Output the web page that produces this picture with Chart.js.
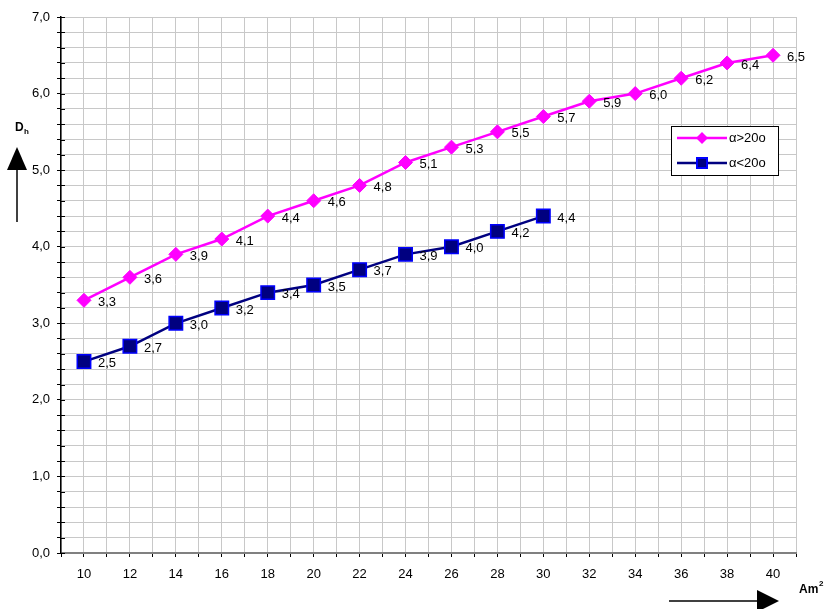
<!DOCTYPE html>
<html>
<head>
<meta charset="utf-8">
<script src="https://cdn.jsdelivr.net/npm/chart.js@4"></script>
<style>
  html, body { margin: 0; padding: 0; background: #fff; }
  #wrap { width: 829px; height: 609px; position: relative; }
</style>
</head>
<body>
<div id="wrap"><canvas id="chart"></canvas></div>
<script>
  const areaX = [10, 12, 14, 16, 18, 20, 22, 24, 26, 28, 30, 32, 34, 36, 38, 40];
  const dhAbove20 = [3.3, 3.6, 3.9, 4.1, 4.4, 4.6, 4.8, 5.1, 5.3, 5.5, 5.7, 5.9, 6.0, 6.2, 6.4, 6.5];
  const dhBelow20 = [2.5, 2.7, 3.0, 3.2, 3.4, 3.5, 3.7, 3.9, 4.0, 4.2, 4.4];
  const seriesNames = ['α>20o', 'α<20o'];
  const xTickLabels = [10, 12, 14, 16, 18, 20, 22, 24, 26, 28, 30, 32, 34, 36, 38, 40];
  const yTickLabels = [0, 1, 2, 3, 4, 5, 6, 7];

  const PINK = '#FF00FF';
  const NAVY = '#000080';
  const BLUE = '#0000FF';
  const FONT = 'Liberation Sans, Arial, sans-serif';

  function toPoints(ys) {
    return ys.map((y, i) => ({ x: areaX[i], y }));
  }

  function fmt(v) {
    return v.toFixed(1).replace('.', ',');
  }

  // value labels right of each point
  const valueLabels = {
    id: 'valueLabels',
    afterDatasetsDraw(chart) {
      const ctx = chart.ctx;
      ctx.save();
      ctx.font = '13px ' + FONT;
      ctx.fillStyle = '#000';
      ctx.textAlign = 'left';
      ctx.textBaseline = 'middle';
      chart.data.datasets.forEach((ds, di) => {
        chart.getDatasetMeta(di).data.forEach((pt, i) => {
          ctx.fillText(fmt(ds.data[i].y), pt.x + 14, pt.y + 2);
        });
      });
      ctx.restore();
    }
  };

  // legend box, axis titles, arrows, inner tick halves
  const decorations = {
    id: 'decorations',
    afterDraw(chart) {
      const ctx = chart.ctx;
      const area = chart.chartArea;
      const yScale = chart.scales.y;
      ctx.save();

      // inner halves of y ticks
      ctx.strokeStyle = '#000';
      ctx.lineWidth = 1;
      yScale.ticks.forEach(t => {
        const py = Math.round(yScale.getPixelForValue(t.value)) + 0.5;
        ctx.beginPath();
        ctx.moveTo(area.left, py);
        ctx.lineTo(area.left + 4, py);
        ctx.stroke();
      });

      // legend
      ctx.fillStyle = '#fff';
      ctx.fillRect(671.5, 126.5, 107, 49);
      ctx.strokeStyle = '#000';
      ctx.lineWidth = 1;
      ctx.strokeRect(671.5, 126.5, 107, 49);

      ctx.lineWidth = 2.5;
      ctx.strokeStyle = PINK;
      ctx.beginPath(); ctx.moveTo(677, 138); ctx.lineTo(727, 138); ctx.stroke();
      ctx.fillStyle = PINK;
      ctx.beginPath();
      ctx.moveTo(702, 132); ctx.lineTo(708, 138); ctx.lineTo(702, 144); ctx.lineTo(696, 138);
      ctx.closePath(); ctx.fill();

      ctx.strokeStyle = NAVY;
      ctx.beginPath(); ctx.moveTo(677, 163); ctx.lineTo(727, 163); ctx.stroke();
      ctx.fillStyle = BLUE;
      ctx.fillRect(696, 157, 12, 12);
      ctx.fillStyle = NAVY;
      ctx.fillRect(698, 159, 8, 8);

      ctx.fillStyle = '#000';
      ctx.font = '13px ' + FONT;
      ctx.textAlign = 'left';
      ctx.textBaseline = 'middle';
      ctx.fillText(seriesNames[0], 729, 138);
      ctx.fillText(seriesNames[1], 729, 163);

      // y title D_h
      ctx.textBaseline = 'alphabetic';
      ctx.font = 'bold 12px ' + FONT;
      ctx.fillText('D', 15, 131);
      ctx.font = 'bold 8px ' + FONT;
      ctx.fillText('h', 24, 134);

      // up arrow
      ctx.strokeStyle = '#000';
      ctx.lineWidth = 1.5;
      ctx.beginPath(); ctx.moveTo(17, 222); ctx.lineTo(17, 166); ctx.stroke();
      ctx.beginPath();
      ctx.moveTo(7, 170); ctx.lineTo(27, 170); ctx.lineTo(17, 147);
      ctx.closePath(); ctx.fillStyle = '#000'; ctx.fill();

      // x title Am²
      ctx.font = 'bold 12px ' + FONT;
      ctx.fillText('Am', 799, 593);
      ctx.font = 'bold 8px ' + FONT;
      ctx.fillText('2', 819, 586);

      // right arrow
      ctx.beginPath(); ctx.moveTo(669, 601); ctx.lineTo(760, 601); ctx.stroke();
      ctx.beginPath();
      ctx.moveTo(757, 590); ctx.lineTo(757, 612); ctx.lineTo(779, 601);
      ctx.closePath(); ctx.fill();

      ctx.restore();
    }
  };

  new Chart(document.getElementById('chart'), {
    type: 'scatter',
    data: {
      datasets: [
        {
          label: seriesNames[0],
          data: toPoints(dhAbove20),
          showLine: true,
          borderColor: PINK,
          backgroundColor: PINK,
          borderWidth: 2.5,
          pointStyle: 'rectRot',
          pointRadius: 7,
          pointBorderWidth: 1,
          pointBorderColor: PINK,
          pointBackgroundColor: PINK
        },
        {
          label: seriesNames[1],
          data: toPoints(dhBelow20),
          showLine: true,
          borderColor: NAVY,
          backgroundColor: NAVY,
          borderWidth: 2.5,
          pointStyle: 'rect',
          pointRadius: 9.5,
          pointBorderWidth: 1.5,
          pointBorderColor: BLUE,
          pointBackgroundColor: NAVY
        }
      ]
    },
    options: {
      responsive: true,
      maintainAspectRatio: false,
      animation: false,
      events: [],
      layout: { padding: { left: 0, top: 17, right: 33, bottom: 0 } },
      plugins: {
        legend: { display: false },
        tooltip: { enabled: false }
      },
      scales: {
        x: {
          type: 'linear',
          min: 9,
          max: 41,
          afterFit(scale) { scale.height = 56; },
          ticks: {
            stepSize: 1,
            autoSkip: false,
            maxRotation: 0,
            padding: 10,
            color: '#000',
            font: { family: FONT, size: 13 },
            callback: v => xTickLabels.includes(v) ? String(v) : ''
          },
          grid: { color: '#c8c8c8', tickColor: '#000', tickLength: 4, lineWidth: 1 },
          border: { color: '#808080', width: 2 }
        },
        y: {
          min: 0,
          max: 7,
          afterFit(scale) { scale.width = 61; },
          ticks: {
            stepSize: 0.2,
            autoSkip: false,
            padding: 7,
            color: '#000',
            font: { family: FONT, size: 13 },
            callback: v => {
              const r = Math.round(v);
              return (Math.abs(v - r) < 1e-6 && yTickLabels.includes(r)) ? fmt(r) : '';
            }
          },
          grid: { color: '#c8c8c8', tickColor: '#000', tickLength: 4, lineWidth: 1 },
          border: { color: '#000', width: 1.5 }
        }
      }
    },
    plugins: [valueLabels, decorations]
  });
</script>
</body>
</html>
